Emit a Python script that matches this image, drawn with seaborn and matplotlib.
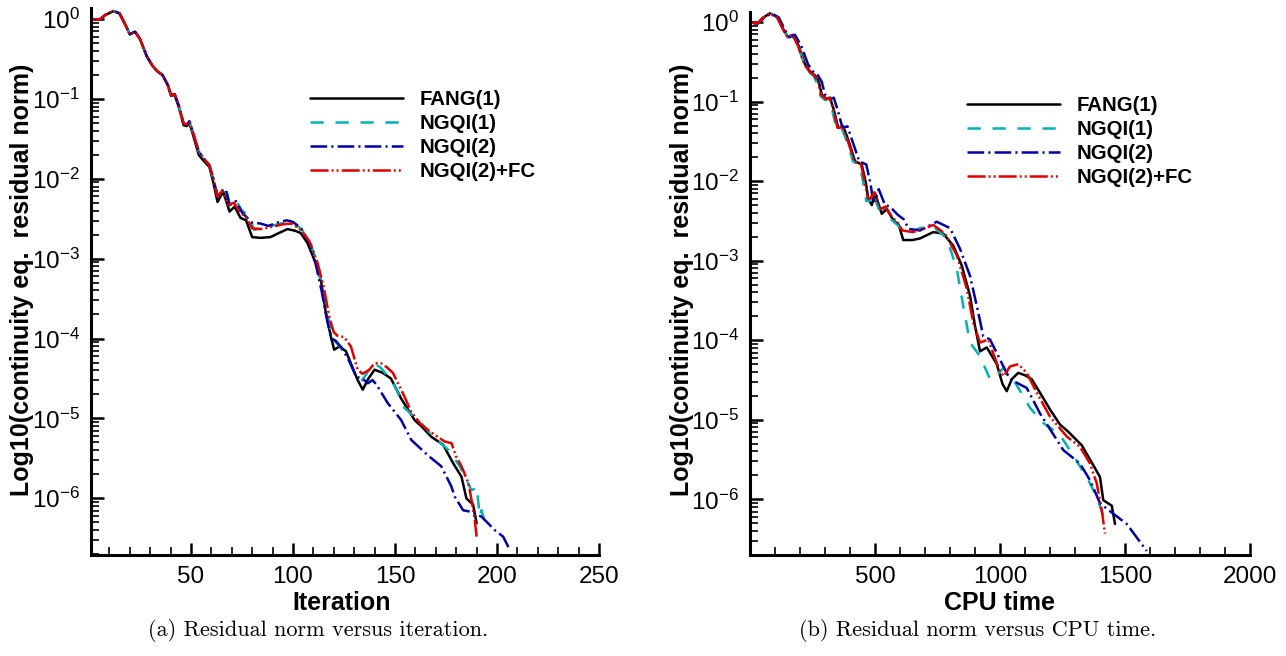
import numpy as np
import pandas as pd
import matplotlib
matplotlib.use("Agg")
import matplotlib.pyplot as plt
import seaborn as sns
from matplotlib.ticker import FixedLocator, LogLocator, NullFormatter, LogFormatterSciNotation

# ---------------- data (log10 of residual norm) ----------------
series_names = ["FANG(1)", "NGQI(1)", "NGQI(2)", "NGQI(2)+FC"]
series_colors = ["#000000", "#00B2B2", "#0000A8", "#E00000"]

# (a) versus iteration
it_fang = [1, 5, 8, 12, 15, 18, 20, 22.6, 25, 28.4, 31, 33.3, 36, 38.7, 40.2, 42, 44, 46.4, 48, 49.2,
           51, 53.8, 56.7, 59, 61, 63, 65.8, 68.9, 71.4, 74.3, 77, 80, 84, 89, 93, 97.3, 101, 103.8,
           107, 111.2, 113.7, 116.1, 118.6, 120.2, 122.7, 126, 129, 131.7, 134.2, 137, 140, 144, 148,
           153, 159.6, 163, 167.8, 173.6, 178.5, 182.6, 185, 188.3, 190]
lg_fang = [0.0, -0.01, 0.05, 0.10, 0.07, -0.08, -0.19, -0.16, -0.25, -0.47, -0.58, -0.65, -0.70, -0.83,
           -0.96, -0.95, -1.10, -1.33, -1.34, -1.30, -1.45, -1.70, -1.79, -1.85, -2.05, -2.29, -2.16,
           -2.41, -2.35, -2.49, -2.52, -2.73, -2.74, -2.73, -2.68, -2.63, -2.65, -2.68, -2.80, -3.06,
           -3.27, -3.68, -3.98, -4.14, -4.10, -4.16, -4.35, -4.52, -4.64, -4.50, -4.39, -4.43, -4.50,
           -4.75, -5.02, -5.10, -5.23, -5.33, -5.56, -5.73, -6.00, -6.08, -6.31]

it_ngqi1 = [1, 5, 8, 12, 15, 18, 20, 22.6, 25, 28.4, 31, 33.3, 36, 38.7, 40.2, 42, 44, 46.4, 48, 49.2,
            51, 53.8, 56.7, 59, 61, 63, 65, 67, 69, 72, 75, 78, 81, 84, 88, 94, 98.9, 103.8, 108.8,
            112, 115.3, 118.6, 120, 123, 127, 131.7, 134, 137, 140, 143.2, 149.7, 154.7, 163, 168.7,
            176, 181.8, 187.5, 189, 190, 191.6, 192.4, 194, 196]
lg_ngqi1 = [0.0, -0.01, 0.05, 0.10, 0.07, -0.08, -0.19, -0.16, -0.25, -0.47, -0.58, -0.65, -0.70, -0.83,
            -0.95, -0.94, -1.08, -1.31, -1.32, -1.28, -1.42, -1.66, -1.76, -1.83, -2.00, -2.22, -2.16,
            -2.10, -2.33, -2.27, -2.40, -2.45, -2.64, -2.62, -2.60, -2.56, -2.54, -2.62, -2.81, -3.10,
            -3.43, -3.93, -4.02, -4.10, -4.25, -4.52, -4.52, -4.40, -4.31, -4.37, -4.58, -4.87, -5.06,
            -5.23, -5.39, -5.60, -5.90, -5.88, -5.85, -6.23, -6.15, -6.29, -6.27]

it_ngqi2 = [1, 5, 8, 12, 15, 18, 20, 22.6, 25, 28.4, 31, 33.3, 36, 38.7, 40.2, 42, 44, 46.4, 48, 49.2,
            51, 53.8, 56.7, 59, 61, 63, 65, 67, 69, 72, 75, 78, 80, 84, 88, 92, 97, 100, 104, 108, 111,
            114, 117, 119, 121, 124, 128, 131, 134, 136.7, 139, 141, 146.5, 153, 158, 166, 172.7,
            177.6, 179.3, 183.4, 187.5, 192.4, 199, 203, 206.4]
lg_ngqi2 = [0.0, -0.01, 0.05, 0.10, 0.07, -0.08, -0.19, -0.16, -0.25, -0.47, -0.58, -0.65, -0.70, -0.83,
            -0.95, -0.94, -1.08, -1.31, -1.32, -1.28, -1.42, -1.66, -1.76, -1.83, -2.00, -2.22, -2.15,
            -2.13, -2.33, -2.28, -2.42, -2.50, -2.55, -2.56, -2.59, -2.55, -2.52, -2.54, -2.62, -2.80,
            -3.05, -3.40, -3.80, -4.00, -4.03, -4.12, -4.30, -4.48, -4.50, -4.56, -4.52, -4.58, -4.81,
            -5.02, -5.27, -5.46, -5.60, -5.85, -5.98, -6.15, -6.17, -6.23, -6.40, -6.48, -6.65]

it_fc = [1, 5, 8, 12, 15, 18, 20, 22.6, 25, 28.4, 31, 33.3, 36, 38.7, 40.2, 42, 44, 46.4, 48, 49.2,
         51, 53.8, 56.7, 59, 61, 63, 65.5, 68, 71, 74, 77, 80, 84, 90, 95, 99, 103, 108, 112, 115, 118,
         120, 122, 125, 128.4, 131.7, 134, 137, 140, 143.2, 146, 149, 154.7, 158, 162.9, 168, 174.4,
         177.7, 180, 182.6, 186, 187.5, 189.1, 190]
lg_fc = [0.0, -0.01, 0.05, 0.10, 0.07, -0.08, -0.19, -0.16, -0.25, -0.47, -0.58, -0.65, -0.70, -0.83,
         -0.95, -0.94, -1.08, -1.31, -1.32, -1.28, -1.42, -1.66, -1.76, -1.83, -2.00, -2.22, -2.15,
         -2.33, -2.30, -2.42, -2.48, -2.62, -2.63, -2.60, -2.57, -2.56, -2.62, -2.78, -3.05, -3.35,
         -3.75, -3.92, -3.97, -3.98, -4.10, -4.39, -4.44, -4.40, -4.31, -4.31, -4.36, -4.43, -4.73,
         -4.92, -5.08, -5.18, -5.29, -5.31, -5.48, -5.60, -5.81, -6.02, -6.27, -6.48]

# (b) versus CPU time
t_fang = [0, 30, 50, 80, 110, 135, 152, 172, 195, 220, 240, 260, 275, 287, 307, 320, 335, 353, 373, 395,
          420, 447, 464, 473, 487, 500, 527, 547, 573, 595, 613, 650, 680, 733, 773, 813, 847, 880, 900,
          920, 947, 987, 1010, 1027, 1047, 1073, 1100, 1127, 1160, 1200, 1240, 1273, 1327, 1373, 1400,
          1413, 1447, 1460]
lgt_fang = [0.0, -0.02, 0.05, 0.11, 0.06, -0.10, -0.19, -0.16, -0.30, -0.53, -0.62, -0.67, -0.75, -0.91,
            -0.97, -0.95, -1.10, -1.33, -1.31, -1.50, -1.75, -1.79, -2.03, -2.22, -2.30, -2.15, -2.41,
            -2.35, -2.49, -2.55, -2.74, -2.74, -2.72, -2.64, -2.66, -2.81, -3.06, -3.44, -3.82, -4.14,
            -4.09, -4.30, -4.55, -4.64, -4.49, -4.41, -4.44, -4.49, -4.66, -4.87, -5.06, -5.15, -5.32,
            -5.57, -5.72, -6.01, -6.08, -6.31]

t_ngqi1 = [0, 30, 50, 80, 110, 135, 150, 170, 195, 218, 238, 255, 270, 282, 300, 315, 330, 345, 365, 390,
           412, 440, 455, 465, 478, 492, 515, 535, 560, 590, 610, 650, 680, 733, 787, 827, 853, 880, 920,
           960, 985, 1013, 1053, 1120, 1173, 1240, 1287, 1347, 1387, 1420]
lgt_ngqi1 = [0.0, -0.02, 0.05, 0.11, 0.06, -0.10, -0.19, -0.17, -0.32, -0.54, -0.63, -0.68, -0.78, -0.93,
             -0.98, -0.96, -1.12, -1.33, -1.32, -1.52, -1.75, -1.80, -2.05, -2.25, -2.25, -2.15, -2.35,
             -2.35, -2.47, -2.55, -2.62, -2.63, -2.59, -2.57, -2.72, -3.10, -3.57, -4.03, -4.20, -4.49,
             -4.45, -4.35, -4.49, -4.85, -5.04, -5.19, -5.42, -5.72, -5.97, -6.27]

t_ngqi2 = [0, 30, 55, 85, 115, 140, 158, 180, 205, 232, 252, 272, 287, 300, 320, 335, 350, 370, 390, 410,
           437, 465, 482, 490, 500, 515, 540, 560, 590, 615, 635, 680, 747, 800, 840, 880, 913, 933, 960,
           987, 1020, 1040, 1107, 1160, 1253, 1320, 1360, 1400, 1453, 1507, 1587]
lgt_ngqi2 = [0.0, -0.02, 0.05, 0.11, 0.06, -0.10, -0.19, -0.16, -0.30, -0.53, -0.62, -0.67, -0.75, -0.91,
             -0.97, -0.95, -1.10, -1.33, -1.31, -1.50, -1.75, -1.79, -2.03, -2.20, -2.25, -2.10, -2.30,
             -2.32, -2.42, -2.48, -2.60, -2.62, -2.51, -2.59, -2.85, -3.19, -3.65, -3.95, -3.99, -4.16,
             -4.37, -4.49, -4.60, -4.92, -5.38, -5.55, -5.76, -6.05, -6.18, -6.31, -6.65]

t_fc = [0, 30, 50, 78, 108, 133, 150, 170, 192, 217, 237, 257, 272, 284, 304, 318, 333, 350, 370, 392,
        417, 444, 460, 470, 482, 497, 522, 542, 568, 590, 610, 650, 680, 733, 780, 827, 867, 893, 920,
        953, 1000, 1015, 1040, 1073, 1107, 1147, 1200, 1267, 1320, 1360, 1387, 1407, 1420]
lgt_fc = [0.0, -0.02, 0.05, 0.11, 0.06, -0.10, -0.19, -0.16, -0.30, -0.53, -0.62, -0.67, -0.75, -0.91,
          -0.97, -0.95, -1.10, -1.33, -1.31, -1.50, -1.75, -1.79, -2.03, -2.20, -2.22, -2.14, -2.35,
          -2.32, -2.45, -2.52, -2.62, -2.64, -2.62, -2.55, -2.66, -2.93, -3.35, -3.78, -4.03, -3.99,
          -4.40, -4.45, -4.33, -4.30, -4.41, -4.66, -4.96, -5.21, -5.34, -5.55, -5.80, -6.14, -6.43]

iter_ticks = [50, 100, 150, 200, 250]
cpu_ticks = [500, 1000, 1500, 2000]
xlabels = ["Iteration", "CPU time"]
ylabel = "Log10(continuity eq.  residual norm)"
captions = ["(a) Residual norm versus iteration.", "(b) Residual norm versus CPU time."]

# ---------------- style ----------------
sns.set_style("ticks")
plt.rcParams["font.family"] = ["Liberation Sans", "DejaVu Sans"]
plt.rcParams["mathtext.fontset"] = "custom"
plt.rcParams["mathtext.rm"] = "Liberation Sans"
plt.rcParams["mathtext.it"] = "Liberation Sans:italic"
plt.rcParams["mathtext.bf"] = "Liberation Sans:bold"
plt.rcParams["lines.scale_dashes"] = False
for key in ["text.color", "axes.labelcolor", "xtick.color", "ytick.color", "axes.edgecolor"]:
    plt.rcParams[key] = "black"

W, H = 1286, 656
fig = plt.figure(figsize=(W / 100, H / 100), dpi=100)
fig.patch.set_facecolor("white")

dash_styles = [None, (9.5, 8.5), (12, 3, 1.5, 3), (13, 2.2, 1.4, 2.2, 1.4, 2.2)]


def px_axes(l, r, t, b):
    return fig.add_axes([l / W, 1 - b / H, (r - l) / W, (b - t) / H])


ax1 = px_axes(91, 599, 8, 555)
ax2 = px_axes(750, 1250, 12, 555)

left_data = [(it_fang, lg_fang), (it_ngqi1, lg_ngqi1), (it_ngqi2, lg_ngqi2), (it_fc, lg_fc)]
right_data = [(t_fang, lgt_fang), (t_ngqi1, lgt_ngqi1), (t_ngqi2, lgt_ngqi2), (t_fc, lgt_fc)]

for ax, data in [(ax1, left_data), (ax2, right_data)]:
    for (xs, lg), name, col, ds in zip(data, series_names, series_colors, dash_styles):
        df = pd.DataFrame({"x": xs, "y": np.power(10.0, lg)})
        sns.lineplot(data=df, x="x", y="y", ax=ax, color=col, label=name, linewidth=1.8,
                     estimator=None, sort=False)
        ln = ax.lines[-1]
        if ds is not None:
            ln.set_dashes(ds)
    ax.set_yscale("log")
    sns.despine(ax=ax)
    for sp in ["left", "bottom"]:
        ax.spines[sp].set_linewidth(2.2)
        ax.spines[sp].set_color("black")
    ax.yaxis.set_major_locator(FixedLocator([10.0 ** k for k in range(-6, 1)]))
    ax.yaxis.set_major_formatter(LogFormatterSciNotation())
    ax.yaxis.set_minor_locator(LogLocator(base=10, subs=np.arange(2, 10), numticks=20))
    ax.yaxis.set_minor_formatter(NullFormatter())
    ax.tick_params(which="major", direction="in", length=9, width=1.8, labelsize=17.5, pad=8,
                   colors="black")
    ax.tick_params(which="minor", direction="in", length=5.5, width=1.2, colors="black")
    ax.set_ylabel(ylabel, fontsize=18, fontweight="bold", color="black")
    ax.yaxis.label.set_va("center")

ax1.set_xlim(1, 250)
ax1.set_ylim(10 ** -6.71, 10 ** 0.138)
ax1.xaxis.set_major_locator(FixedLocator(iter_ticks))
ax1.xaxis.set_minor_locator(FixedLocator([v for v in range(10, 250, 10) if v % 50]))
ax2.set_xlim(0, 2000)
ax2.set_ylim(10 ** -6.70, 10 ** 0.127)
ax2.xaxis.set_major_locator(FixedLocator(cpu_ticks))
ax2.xaxis.set_minor_locator(FixedLocator([v for v in range(100, 2000, 100) if v % 500]))

for ax, lab, xc, ylx in [(ax1, xlabels[0], 342, 22), (ax2, xlabels[1], 1000, 682)]:
    ax.set_xlabel(lab, fontsize=18, fontweight="bold", color="black")
    ax.xaxis.label.set_va("center")
    ax.xaxis.set_label_coords(xc / W, 1 - 603 / H, transform=fig.transFigure)
    ax.yaxis.set_label_coords(ylx / W, 1 - 280 / H, transform=fig.transFigure)

for ax, ax_px, ay_px in [(ax1, 310, 90), (ax2, 967, 96)]:
    leg = ax.legend(loc="upper left", bbox_to_anchor=(ax_px / W, 1 - ay_px / H),
                    bbox_transform=fig.transFigure, frameon=False, handlelength=4.55,
                    handletextpad=0.83, labelspacing=0.25, borderpad=0, borderaxespad=0,
                    prop={"weight": "bold", "size": 14.7})
    for txt in leg.get_texts():
        txt.set_color("black")

for cap, cx in zip(captions, [318, 978]):
    fig.text(cx / W, 1 - 631 / H, cap, family="cmr10", fontsize=16, ha="center", va="center",
             color="black")

fig.savefig("out.png", dpi=100, facecolor="white")
